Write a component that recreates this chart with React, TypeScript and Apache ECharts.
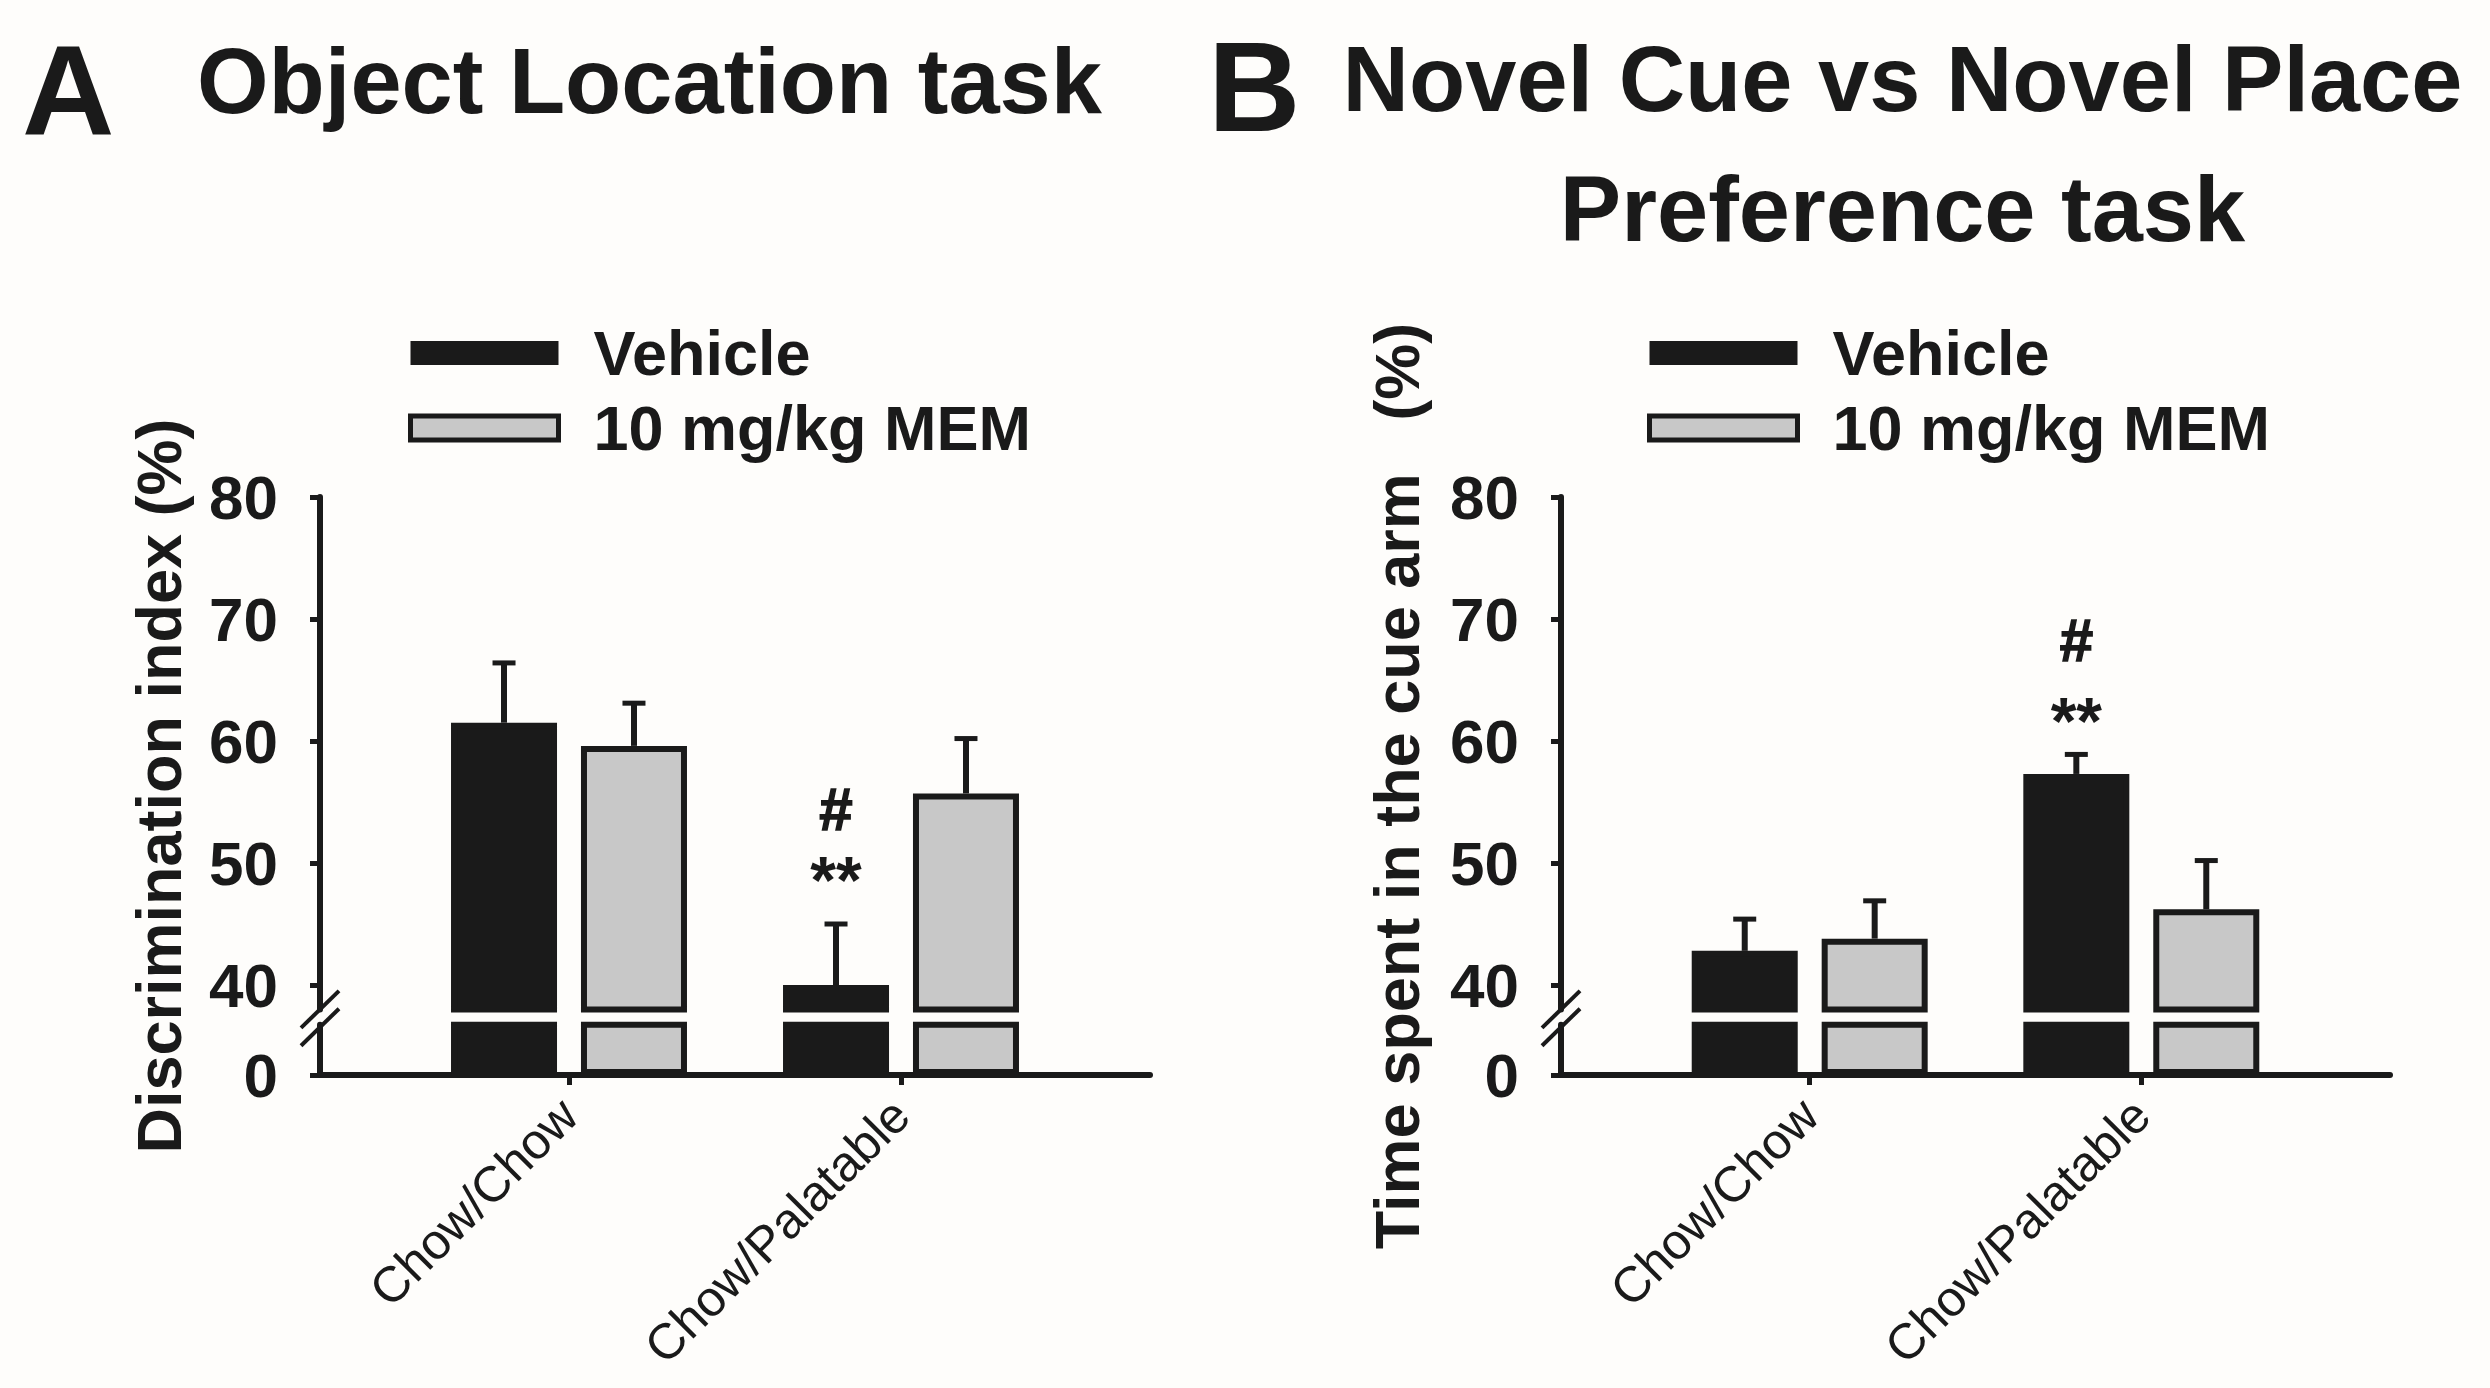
import React, { useEffect, useRef } from 'react';
import * as echarts from 'echarts';

// ---------------- data ----------------
const categories = ['Chow/Chow', 'Chow/Palatable'];
const categoryPositions = [1, 2];
const seriesNames = ['Vehicle', '10 mg/kg MEM'];

// Panel A – Object Location task (Discrimination index, %)
const objectLocationVehicle = [61.5, 40.0];
const objectLocationVehicleSem = [4.9, 5.0];
const objectLocationMem = [59.6, 55.7];
const objectLocationMemSem = [3.5, 4.5];

// Panel B – Novel Cue vs Novel Place Preference task (Time in cue arm, %)
const cuePlaceVehicle = [42.8, 57.3];
const cuePlaceVehicleSem = [2.6, 1.6];
const cuePlaceMem = [43.8, 46.2];
const cuePlaceMemSem = [3.1, 4.0];

const upperTickValues = [40, 50, 60, 70, 80];
const lowerTickValues = [0];

// significance marks above the Vehicle bars
const objectLocationMarks = [
  { category: 2, text: '#', value: 54.4 },
  { category: 2, text: '**', value: 48.6 },
];
const cuePlaceMarks = [
  { category: 2, text: '#', value: 68.2 },
  { category: 2, text: '**', value: 61.6 },
];

// ---------------- style / layout ----------------
const FONT = 'Arial, "Liberation Sans", Helvetica, sans-serif';
const BLACK = '#1a1a1a';
const GRAY = '#c8c8c8';
const BG = '#fefdfb';
const BAR_W = 106;
const BAR_BORDER = 6;
const BAR_GAP_RATIO = 0.226;
const PAIR_OFFSET = (BAR_W * (1 + BAR_GAP_RATIO)) / 2;
const STEM_W = 6;
const CAP_W = 5;
const CAP_HALF = 11.5;
const AXIS_W = 6;

const UPPER_TOP = 497;
const UPPER_MIN = 38;
const UPPER_MAX = 80;
const PX_PER_UNIT = 12.2;
const UPPER_H = (UPPER_MAX - UPPER_MIN) * PX_PER_UNIT;
const LOWER_TOP = 1024.7;
const AXIS_Y = 1075;
const LOWER_MAX = 4;
const X_MIN = 0.25;
const X_MAX = 2.75;

const panels = [
  {
    letter: 'A',
    titleLines: ['Object Location task'],
    yName: 'Discrimination index (%)',
    vehicle: objectLocationVehicle,
    vehicleSem: objectLocationVehicleSem,
    mem: objectLocationMem,
    memSem: objectLocationMemSem,
    marks: objectLocationMarks,
    layout: {
      left: 320, width: 830, nameX: 159, legendLeft: 408,
      letterX: 22, letterBase: 135, titleX: 649.5, titleBases: [113],
    },
  },
  {
    letter: 'B',
    titleLines: ['Novel Cue vs Novel Place', 'Preference task'],
    yName: 'Time spent in the cue arm   (%)',
    vehicle: cuePlaceVehicle,
    vehicleSem: cuePlaceVehicleSem,
    mem: cuePlaceMem,
    memSem: cuePlaceMemSem,
    marks: cuePlaceMarks,
    layout: {
      left: 1561, width: 829, nameX: 1397, legendLeft: 1647,
      letterX: 1208, letterBase: 131, titleX: 1902.5, titleBases: [111, 241],
    },
  },
];

const centralY = (baseline: number, size: number) => baseline - 0.3465 * size;

function buildOption() {
  const grid: any[] = [];
  const xAxis: any[] = [];
  const yAxis: any[] = [];
  const series: any[] = [];
  const legend: any[] = [];
  const graphic: any[] = [];

  panels.forEach((p, pi) => {
    const L = p.layout;
    const up = pi * 2;
    const low = pi * 2 + 1;
    grid.push({ left: L.left, top: UPPER_TOP, width: L.width, height: UPPER_H });
    grid.push({ left: L.left, top: LOWER_TOP, width: L.width, height: AXIS_Y - LOWER_TOP });

    xAxis.push({ type: 'value', gridIndex: up, min: X_MIN, max: X_MAX, show: false });
    xAxis.push({
      type: 'value', gridIndex: low, min: X_MIN, max: X_MAX,
      splitLine: { show: false },
      axisLine: { show: true, onZero: false, lineStyle: { color: BLACK, width: AXIS_W } },
      axisTick: { show: true, customValues: categoryPositions, length: 10, lineStyle: { color: BLACK, width: 5 } },
      axisLabel: {
        customValues: categoryPositions,
        formatter: (v: number) => categories[categoryPositions.indexOf(v)] ?? '',
        rotate: 45, fontSize: 50, color: BLACK, fontFamily: FONT, margin: 32,
      },
    });

    const yCommon = {
      type: 'value',
      splitLine: { show: false },
      axisLine: { show: true, onZero: false, lineStyle: { color: BLACK, width: AXIS_W } },
      axisTick: { show: true, length: 10, lineStyle: { color: BLACK, width: 5 } },
      axisLabel: { fontSize: 62, fontWeight: 'bold', color: BLACK, fontFamily: FONT, margin: 42 },
    };
    yAxis.push({
      ...yCommon, gridIndex: up, min: UPPER_MIN, max: UPPER_MAX,
      axisTick: { ...yCommon.axisTick, customValues: upperTickValues },
      axisLabel: { ...yCommon.axisLabel, customValues: upperTickValues },
    });
    yAxis.push({
      ...yCommon, gridIndex: low, min: 0, max: LOWER_MAX,
      axisTick: { ...yCommon.axisTick, customValues: lowerTickValues },
      axisLabel: { ...yCommon.axisLabel, customValues: lowerTickValues },
    });

    const groups = [
      { name: seriesNames[0], values: p.vehicle, sems: p.vehicleSem, color: BLACK, offset: -PAIR_OFFSET },
      { name: seriesNames[1], values: p.mem, sems: p.memSem, color: GRAY, offset: PAIR_OFFSET },
    ];
    [up, low].forEach((axisIdx) => {
      groups.forEach((g) => {
        series.push({
          type: 'bar', name: g.name, xAxisIndex: axisIdx, yAxisIndex: axisIdx,
          data: g.values.map((v, i) => [categoryPositions[i], v]),
          barWidth: BAR_W, barGap: `${BAR_GAP_RATIO * 100}%`, clip: true, z: 3,
          itemStyle: { color: g.color, borderColor: BLACK, borderWidth: BAR_BORDER },
          silent: true,
        });
      });
    });
    groups.forEach((g) => {
      series.push({
        type: 'custom', xAxisIndex: up, yAxisIndex: up, z: 4, silent: true,
        encode: { x: 0, y: [1, 2] },
        data: g.values.map((v, i) => [categoryPositions[i], v, v + g.sems[i]]),
        renderItem: (params: any, api: any) => {
          const x = api.value(0);
          const base = api.coord([x, api.value(1)]);
          const top = api.coord([x, api.value(2)]);
          const cx = base[0] + g.offset;
          return {
            type: 'group',
            children: [
              { type: 'line', shape: { x1: cx, y1: base[1], x2: cx, y2: top[1] }, style: { stroke: BLACK, lineWidth: STEM_W } },
              { type: 'line', shape: { x1: cx - CAP_HALF, y1: top[1], x2: cx + CAP_HALF, y2: top[1] }, style: { stroke: BLACK, lineWidth: CAP_W } },
            ],
          };
        },
      });
    });
    const marks = p.marks;
    series.push({
      type: 'custom', xAxisIndex: up, yAxisIndex: up, z: 5, silent: true,
      encode: { x: 0, y: 1 },
      data: marks.map((m) => [m.category, m.value]),
      renderItem: (params: any, api: any) => {
        const m = marks[params.dataIndex];
        const pt = api.coord([api.value(0), api.value(1)]);
        return {
          type: 'text', x: pt[0] - PAIR_OFFSET, y: pt[1],
          style: {
            text: m.text, fill: BLACK, fontFamily: FONT, fontWeight: 'bold',
            fontSize: m.text === '#' ? 60 : 66, align: 'center', verticalAlign: 'middle',
            stroke: m.text === '#' ? BLACK : undefined, lineWidth: m.text === '#' ? 1.5 : 0,
          },
        };
      },
    });

    legend.push({
      orient: 'vertical', left: L.legendLeft, top: 321.5, padding: 0,
      itemWidth: 148, itemHeight: 24, itemGap: 12,
      selectedMode: false, icon: 'rect',
      data: [
        { name: seriesNames[0], itemStyle: { color: BLACK, borderWidth: 0 } },
        { name: seriesNames[1], itemStyle: { color: GRAY, borderColor: BLACK, borderWidth: 5 } },
      ],
      textStyle: { fontSize: 63, fontWeight: 'bold', color: BLACK, fontFamily: FONT, padding: [0, 0, 0, 30] },
    });

    // panel letter & title
    graphic.push({
      type: 'text', x: L.letterX, y: centralY(L.letterBase, 128),
      style: { text: p.letter, fontSize: 128, fontWeight: 'bold', fontFamily: FONT, fill: BLACK, align: 'left', verticalAlign: 'middle' },
    });
    p.titleLines.forEach((t, ti) => {
      graphic.push({
        type: 'text', x: L.titleX, y: centralY(L.titleBases[ti], 92),
        style: { text: t, fontSize: 92, fontWeight: 'bold', fontFamily: FONT, fill: BLACK, align: 'center', verticalAlign: 'middle' },
      });
    });
    // y axis name (spans the broken axis)
    graphic.push({
      type: 'text', x: L.nameX, y: 786, rotation: Math.PI / 2,
      style: { text: p.yName, fontSize: 63, fontWeight: 'bold', fontFamily: FONT, fill: BLACK, align: 'center', verticalAlign: 'middle' },
    });
    // axis break marks
    const breakTop = UPPER_TOP + UPPER_H;
    [breakTop, LOWER_TOP + 2.5].forEach((cy) => {
      graphic.push({
        type: 'line', shape: { x1: L.left - 19, y1: cy + 18.5, x2: L.left + 19, y2: cy - 18.5 },
        style: { stroke: BLACK, lineWidth: 4 },
      });
    });
  });

  return {
    animation: false,
    backgroundColor: BG,
    grid, xAxis, yAxis, series, legend, graphic,
  };
}

export default function App() {
  const ref = useRef<HTMLDivElement>(null);
  useEffect(() => {
    if (!ref.current) return;
    const chart = echarts.init(ref.current, undefined, { renderer: 'svg' });
    chart.setOption(buildOption() as any);
    return () => chart.dispose();
  }, []);
  return (
    <div
      ref={ref}
      style={{ position: 'absolute', left: 0, top: 0, width: 2490, height: 1388 }}
    />
  );
}
